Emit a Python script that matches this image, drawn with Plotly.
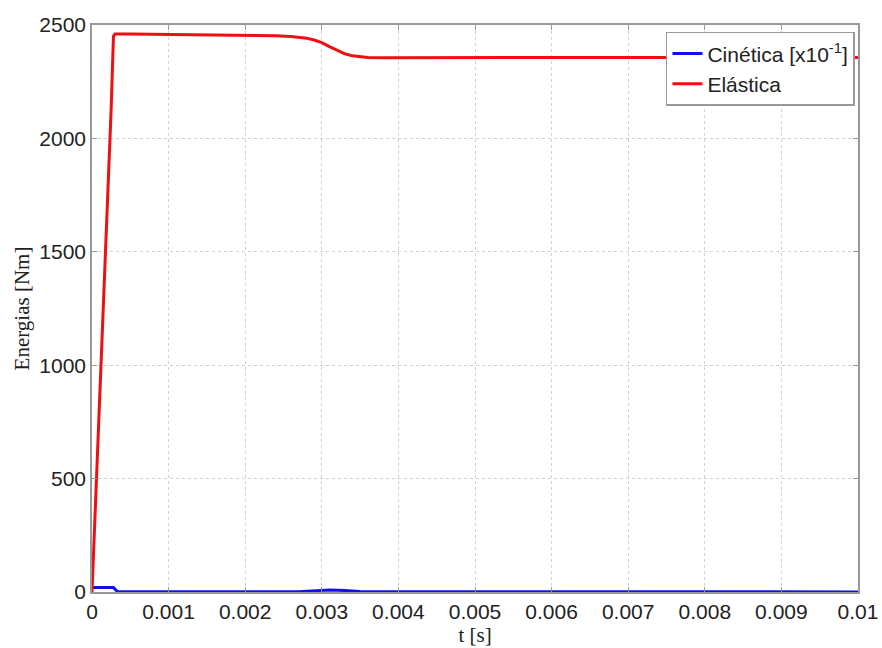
import plotly.graph_objects as go

# Elastic energy
t_el = [0, 0.00005, 0.0001, 0.00015, 0.0002, 0.00025, 0.00028, 0.0003, 0.0005, 0.001,
        0.0015, 0.002, 0.0024, 0.0026, 0.0028, 0.0029, 0.003, 0.0031, 0.0032, 0.0033,
        0.0034, 0.0035, 0.0036, 0.0038, 0.004, 0.005, 0.006, 0.007, 0.008, 0.009, 0.01]
e_el = [0, 420, 850, 1280, 1700, 2130, 2450, 2460, 2460, 2459,
        2458, 2456, 2453, 2449, 2442, 2434, 2422, 2405, 2388, 2373,
        2364, 2359, 2357, 2356, 2356, 2357, 2357, 2357, 2357, 2357, 2357]

# Kinetic energy [x10^-1]
t_kin = [0, 0.00028, 0.00033, 0.0005, 0.0027, 0.0029, 0.0031, 0.0033, 0.0035, 0.004, 0.0056, 0.006, 0.01]
e_kin = [20, 20, 2, 1, 1, 5, 9, 7, 2, 1.5, 1.5, 0.5, 0.5]

x_ticks = [0, 0.001, 0.002, 0.003, 0.004, 0.005, 0.006, 0.007, 0.008, 0.009, 0.01]
x_labels = ["0", "0.001", "0.002", "0.003", "0.004", "0.005", "0.006", "0.007", "0.008", "0.009", "0.01"]
y_ticks = [0, 500, 1000, 1500, 2000, 2500]

fig = go.Figure()
fig.add_trace(go.Scatter(x=t_kin, y=e_kin, mode="lines", name="Cinética [x10<sup>-1</sup>]",
                         line=dict(color="#1010ee", width=3)))
fig.add_trace(go.Scatter(x=t_el, y=e_el, mode="lines", name="Elástica",
                         line=dict(color="#ee1010", width=3)))

axis_common = dict(showline=True, linecolor="#999999", linewidth=1.5, mirror="ticks",
                   ticks="inside", ticklen=5, tickcolor="#999999",
                   showgrid=True, gridcolor="#d0d0d0", griddash="dot", gridwidth=1,
                   zeroline=False, automargin=False,
                   tickfont=dict(family="Liberation Sans, Arial", size=21, color="#222222"))

title_font = dict(family="Liberation Serif, Times New Roman", size=21, color="#222222")

fig.update_xaxes(range=[0, 0.01], tickvals=x_ticks, ticktext=x_labels,
                 title=dict(text="t [s]", font=title_font, standoff=0),
                 **axis_common)
fig.update_yaxes(range=[0, 2500], tickvals=y_ticks,
                 title=dict(text="Energias [Nm]", font=title_font, standoff=4),
                 **axis_common)

fig.update_layout(
    width=882, height=648,
    margin=dict(l=92, r=24, t=25, b=56),
    paper_bgcolor="white", plot_bgcolor="white",
    showlegend=True,
    legend=dict(x=0.996, y=0.988, xanchor="right", yanchor="top",
                bgcolor="white", bordercolor="#999999", borderwidth=1.5,
                font=dict(family="Liberation Sans, Arial", size=21, color="#222222"),
                itemwidth=30, tracegroupgap=0),
)

fig.write_html("out.html")
